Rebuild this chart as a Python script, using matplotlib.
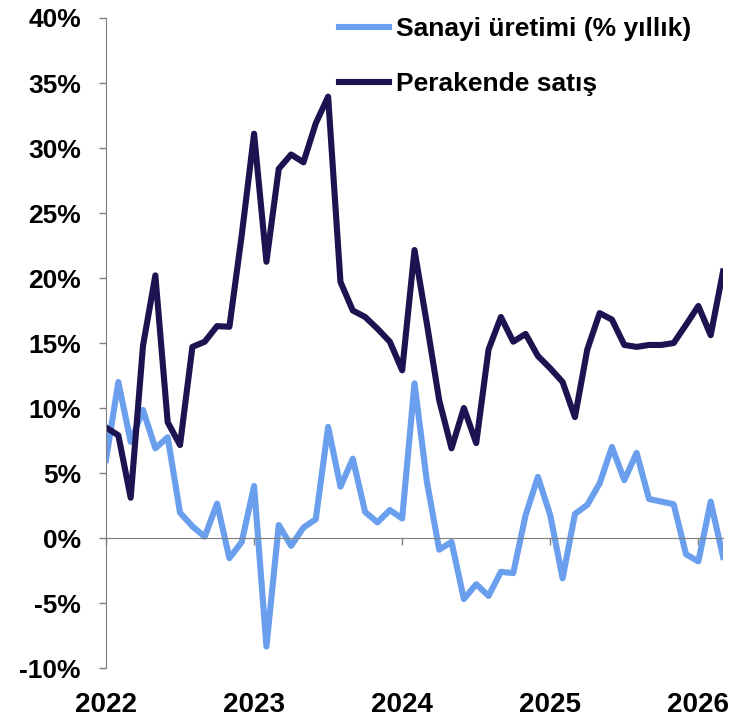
import numpy as np
import matplotlib
matplotlib.use("Agg")
import matplotlib.pyplot as plt

plt.rcParams['font.family'] = ['Liberation Sans', 'DejaVu Sans']
plt.rcParams['axes.unicode_minus'] = False

# monthly, Jan 2022 .. Mar 2026
years = ['2022', '2023', '2024', '2025', '2026']
sanayi = [6.0, 12.0, 7.4, 9.85, 6.9, 7.75, 1.95, 0.9, 0.1, 2.65, -1.55, -0.3,
          4.0, -8.35, 1.0, -0.6, 0.8, 1.45, 8.55, 3.95, 6.1, 2.0, 1.2, 2.15,
          1.5, 11.9, 4.35, -0.9, -0.3, -4.7, -3.55, -4.45, -2.6, -2.7, 1.75, 4.7,
          1.75, -3.1, 1.85, 2.55, 4.2, 7.0, 4.45, 6.55, 3.0, 2.8, 2.6, -1.25,
          -1.8, 2.8, -1.45]
perakende = [8.5, 7.9, 3.1, 14.8, 20.2, 8.9, 7.15, 14.7, 15.1, 16.3, 16.25, 23.3,
             31.1, 21.25, 28.4, 29.5, 28.9, 31.9, 33.95, 19.7, 17.5, 17.0, 16.1, 15.1,
             12.9, 22.15, 16.5, 10.6, 6.9, 10.0, 7.3, 14.5, 17.0, 15.1, 15.7, 14.0,
             13.05, 12.0, 9.3, 14.5, 17.3, 16.8, 14.85, 14.7, 14.85, 14.85, 15.0, 16.4,
             17.85, 15.6, 20.5]
yticks = [-10, -5, 0, 5, 10, 15, 20, 25, 30, 35, 40]

light = '#6A9FEE'
dark = '#1C1450'
gray = '#7F7F7F'

fig = plt.figure(figsize=(7.33, 7.2), dpi=100)
ax = fig.add_axes([0.1446, 0.0722, 0.8418, 0.9028])

months = np.arange(len(sanayi))
ax.plot(months, sanayi, color=light, lw=4.4, solid_joinstyle='round', label='Sanayi üretimi (% yıllık)')
ax.plot(months, perakende, color=dark, lw=4.4, solid_joinstyle='round', label='Perakende satış')

ax.set_xlim(0, 50)
ax.set_ylim(-10, 40)
ax.set_yticks(yticks)
ax.set_yticklabels([f'{v}%' for v in yticks], fontsize=19, fontweight='bold')
ax.tick_params(axis='y', direction='out', length=5, width=1, color=gray, pad=13)

for s in ['top', 'right']:
    ax.spines[s].set_visible(False)
ax.spines['left'].set_color(gray)
ax.spines['bottom'].set_color(gray)
ax.spines['bottom'].set_position(('data', 0))

tick_pos = [12 * i for i in range(len(years))]
ax.set_xticks(tick_pos)
ax.tick_params(axis='x', direction='out', length=5, width=1, color=gray, labelbottom=False)

sec = ax.secondary_xaxis('bottom')
sec.set_xticks(tick_pos)
sec.set_xticklabels(years, fontsize=20, fontweight='bold')
sec.tick_params(length=0, pad=17)
sec.spines['bottom'].set_visible(False)

fig.legend(loc='upper left', bbox_to_anchor=(0.4625, 0.976), frameon=False,
           prop={'size': 19, 'weight': 'bold'}, handlelength=1.9, handletextpad=0.27,
           labelspacing=1.17, borderpad=0, borderaxespad=0)

fig.savefig('out.png', dpi=100)
